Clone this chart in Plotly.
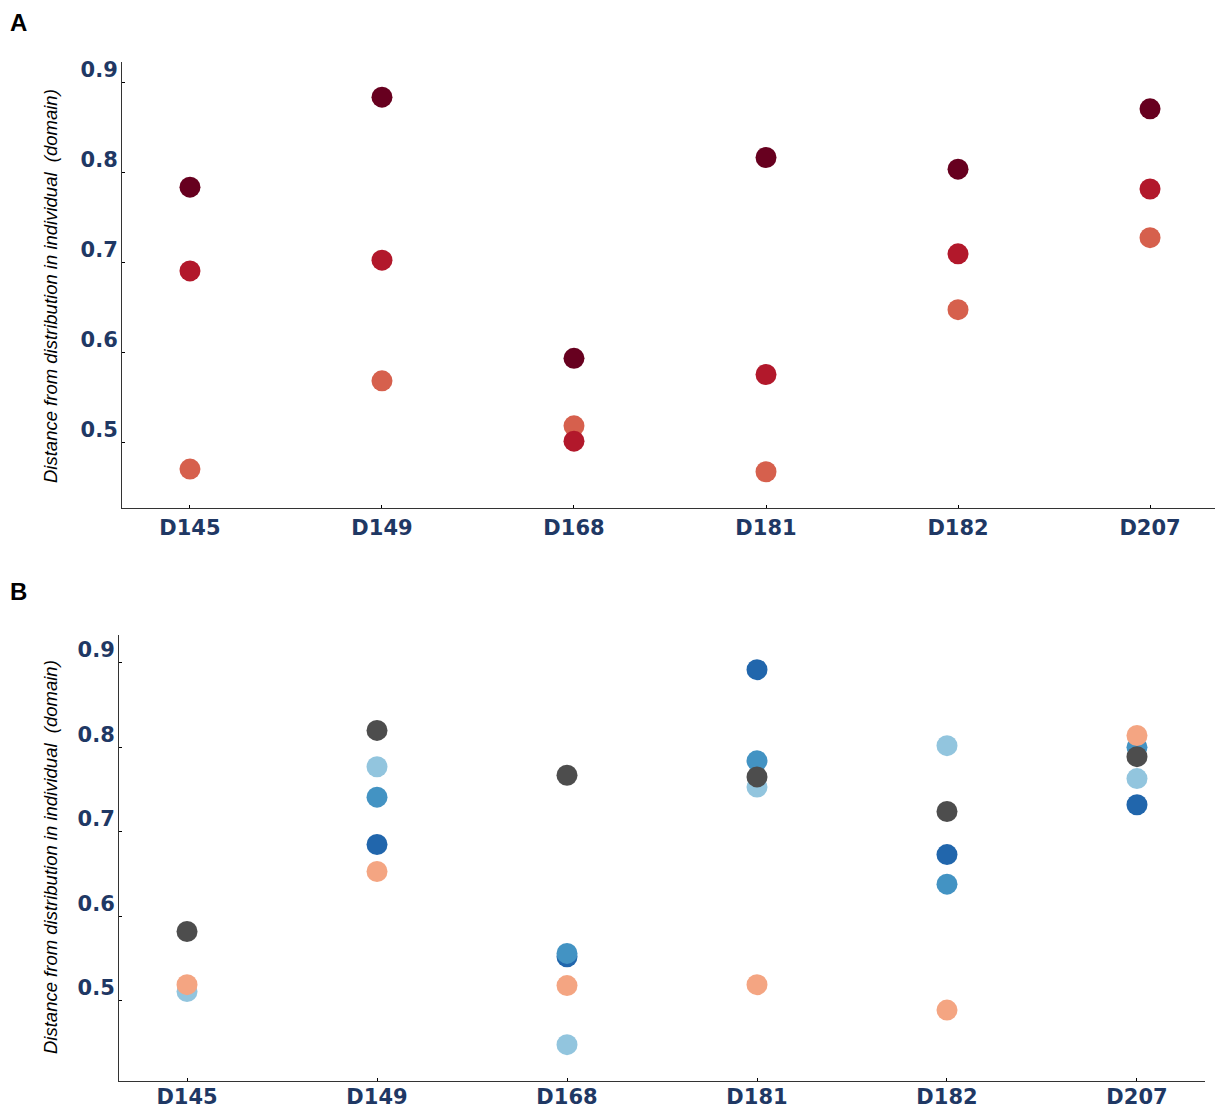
import plotly.graph_objects as go

categories = ["D145", "D149", "D168", "D181", "D182", "D207"]
y_ticks = [0.5, 0.6, 0.7, 0.8, 0.9]
y_tick_labels = ["0.5", "0.6", "0.7", "0.8", "0.9"]

# Panel A series
a_dark = [0.784, 0.884, 0.594, 0.817, 0.804, 0.871]
a_mid = [0.691, 0.703, 0.502, 0.576, 0.710, 0.782]
a_light = [0.471, 0.569, 0.519, 0.468, 0.648, 0.728]

# Panel B series
b_darkblue = [None, 0.685, 0.552, 0.892, 0.673, 0.732]
b_lightblue = [0.511, 0.777, 0.448, 0.753, 0.802, 0.763]
b_midblue = [None, 0.741, 0.556, 0.784, 0.638, 0.800]
b_grey = [0.582, 0.820, 0.767, 0.765, 0.724, 0.789]
b_orange = [0.519, 0.653, 0.518, 0.519, 0.489, 0.814]

title_text = "Distance from distribution in individual  (domain)"
tick_color = "#1f3864"

W, H = 1215, 1110

fig = go.Figure()

def add(y, color, xa, ya):
    fig.add_trace(go.Scatter(
        x=list(range(len(categories))), y=y, mode="markers",
        marker=dict(size=21, color=color, line=dict(width=0)),
        xaxis=xa, yaxis=ya, showlegend=False, hoverinfo="skip"))

add(a_light, "#d6604d", "x", "y")
add(a_mid, "#b2182b", "x", "y")
add(a_dark, "#67001f", "x", "y")

add(b_darkblue, "#2166ac", "x2", "y2")
add(b_lightblue, "#92c5de", "x2", "y2")
add(b_midblue, "#4393c3", "x2", "y2")
add(b_grey, "#4d4d4d", "x2", "y2")
add(b_orange, "#f4a582", "x2", "y2")

tickfont = dict(family="DejaVu Sans", size=21, color=tick_color, weight="bold")

xcommon = dict(
    tickmode="array", tickvals=list(range(len(categories))), ticktext=categories,
    showline=True, linecolor="#333333", linewidth=1, automargin=False,
    showgrid=False, zeroline=False, ticks="inside", ticklen=3, tickcolor="black",
    tickfont=tickfont,
)
ycommon = dict(
    tickmode="array", tickvals=y_ticks, ticktext=y_tick_labels,
    showline=True, linecolor="#333333", linewidth=1, automargin=False,
    showgrid=False, zeroline=False, ticks="inside", ticklen=3, tickcolor="black",
    tickfont=tickfont, ticklabelshift=-13, ticklabelstandoff=-1,
)

fig.update_layout(
    width=W, height=H,
    margin=dict(l=0, r=0, t=0, b=0, autoexpand=False),
    paper_bgcolor="white", plot_bgcolor="white",
    xaxis=dict(domain=[114/W, 1210/W], anchor="y", range=[-0.354, 5.354],
               ticklabelstandoff=1, **xcommon),
    yaxis=dict(domain=[1-500/H, 1-54/H], anchor="x", range=[0.4278, 0.923], **ycommon),
    xaxis2=dict(domain=[111/W, 1197/W], anchor="y2", range=[-0.358, 5.358],
                ticklabelstandoff=-3, **xcommon),
    yaxis2=dict(domain=[1-1073/H, 1-627/H], anchor="x2", range=[0.405, 0.933], **ycommon),
)

title_font = dict(family="Liberation Sans, Arial", size=18.5, color="black", style="italic")
for yc in [1-278/H, 1-849/H]:
    fig.add_annotation(
        text=title_text, xref="paper", yref="paper", x=42/W, y=yc,
        textangle=-90, showarrow=False, font=title_font,
        xanchor="center", yanchor="middle")

for lbl, yc in [("A", 1-15/H), ("B", 1-583/H)]:
    fig.add_annotation(
        text="<b>" + lbl + "</b>", xref="paper", yref="paper", x=0, y=yc,
        showarrow=False, font=dict(family="Liberation Sans, Arial", size=24, color="black"),
        xanchor="left", yanchor="middle")

fig.write_html("out.html")
